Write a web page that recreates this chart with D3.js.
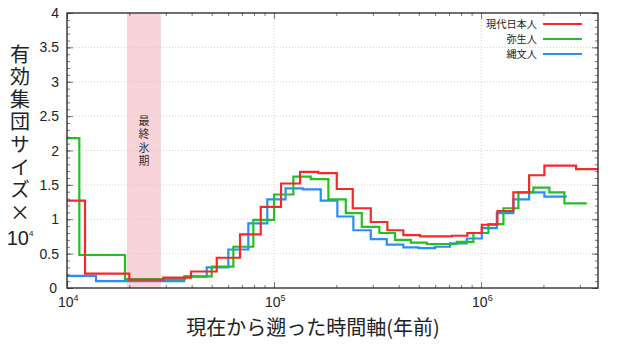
<!DOCTYPE html>
<html><head><meta charset="utf-8">
<script src="https://cdn.jsdelivr.net/npm/d3@7"></script>
<style>
body{margin:0;background:#fff;}
svg{display:block;}
</style></head>
<body>
<svg id="c" width="624" height="352"></svg>
<script>
// ---- data (time in years before present, Ne in units of 10^4) ----
const seriesNames = ["現代日本人", "弥生人", "縄文人"];
const seriesColors = ["#f42a2a", "#22c022", "#2a8ef5"];

const modernTimes = [10000, 12220, 20000, 29190, 39720, 52880, 68510, 86250, 108100, 133550, 163700, 200900, 240000, 293200, 352700, 421300, 507400, 599500, 722000, 858700, 1008000, 1199000, 1432000, 1706000, 2022000, 2877000, 3700000];
const modernValues = [1.27, 0.21, 0.12, 0.15, 0.24, 0.44, 0.78, 1.18, 1.52, 1.69, 1.67, 1.44, 1.16, 0.96, 0.84, 0.77, 0.75, 0.75, 0.76, 0.80, 0.92, 1.12, 1.39, 1.64, 1.78, 1.73];

const yayoiTimes = [10000, 11470, 19060, 37160, 50000, 63610, 79430, 100000, 123960, 150400, 183000, 222100, 265300, 322600, 384200, 457600, 546700, 763200, 918000, 1085000, 1282000, 1515000, 1789000, 2138000, 2526000, 3240000];
const yayoiValues = [2.18, 0.48, 0.13, 0.17, 0.31, 0.60, 0.99, 1.36, 1.62, 1.585, 1.29, 1.09, 0.89, 0.80, 0.70, 0.66, 0.64, 0.67, 0.80, 0.93, 1.16, 1.39, 1.46, 1.39, 1.23];

const jomonTimes = [10000, 13810, 36750, 47300, 60150, 75120, 92800, 113650, 137600, 168100, 202200, 241600, 293200, 350300, 421300, 497900, 599500, 708400, 853000, 1008000, 1191000, 1432000, 1706000, 2022000, 2594000];
const jomonValues = [0.175, 0.10, 0.165, 0.30, 0.56, 0.94, 1.29, 1.45, 1.435, 1.27, 1.04, 0.84, 0.71, 0.63, 0.59, 0.58, 0.60, 0.65, 0.72, 0.87, 1.09, 1.29, 1.39, 1.33];

const iceAge = [19500, 28400];
const iceAgeLabel = "最終氷期";
const yTicks = [0, 0.5, 1, 1.5, 2, 2.5, 3, 3.5, 4];
const xMajor = [1e4, 1e5, 1e6];
const xTickExp = ["4", "5", "6"];
const yTitleMain = "有効集団サイズ×";
const xTitle = "現在から遡った時間軸(年前)";

// ---- layout ----
const L = 67, R = 598, T = 13, B = 288;
const svg = d3.select("#c");
const x = d3.scaleLog().domain([1e4, 3.67e6]).range([L, R]);
const y = d3.scaleLinear().domain([0, 4]).range([B, T]);
const latin = "Liberation Sans, Arial, Helvetica, sans-serif";
const cjk = "'Noto Sans CJK JP', 'Noto Sans CJK SC', sans-serif";

svg.append("defs").append("clipPath").attr("id", "clip")
  .append("rect").attr("x", L).attr("y", T).attr("width", R - L).attr("height", B - T);

// ice age band
svg.append("rect")
  .attr("x", x(iceAge[0])).attr("y", T)
  .attr("width", x(iceAge[1]) - x(iceAge[0])).attr("height", B - T)
  .attr("fill", "#f8d3d7");

// grid
const grid = svg.append("g").attr("stroke", "#c8c8c8").attr("stroke-width", 0.8).attr("stroke-dasharray", "1,2");
yTicks.filter(v => v > 0 && v < 4).forEach(v => {
  grid.append("line").attr("x1", L).attr("x2", R).attr("y1", y(v)).attr("y2", y(v));
});
xMajor.filter(v => v > 1e4).forEach(v => {
  grid.append("line").attr("x1", x(v)).attr("x2", x(v)).attr("y1", T).attr("y2", B);
});

// ice age label (vertical)
svg.append("text")
  .attr("x", (x(iceAge[0]) + x(iceAge[1])) / 2).attr("y", 115)
  .attr("writing-mode", "vertical-rl").style("text-orientation", "upright")
  .attr("letter-spacing", 2.5)
  .attr("font-family", cjk).attr("font-size", 11).attr("fill", "#333")
  .text(iceAgeLabel);

// series
function stepPoints(times, values) {
  const pts = values.map((v, i) => [times[i], v]);
  pts.push([times[times.length - 1], values[values.length - 1]]);
  return pts;
}
const line = d3.line().x(d => x(d[0])).y(d => y(d[1])).curve(d3.curveStepAfter);
const allSeries = [
  stepPoints(modernTimes, modernValues),
  stepPoints(yayoiTimes, yayoiValues),
  stepPoints(jomonTimes, jomonValues)
];
const gl = svg.append("g").attr("clip-path", "url(#clip)");
[2, 1, 0].forEach(i => {
  gl.append("path").attr("d", line(allSeries[i])).attr("fill", "none")
    .attr("stroke", seriesColors[i]).attr("stroke-width", 2.2).attr("stroke-linejoin", "miter");
});

// axes with inward ticks
const minorX = [];
for (let d = 1e4; d < 1e7; d *= 10) for (let k = 2; k <= 9; k++) if (k * d <= 3.67e6) minorX.push(k * d);
const minorY = d3.range(0, 4.001, 0.1).map(v => +v.toFixed(1));

svg.append("g").attr("transform", `translate(0,${B})`)
  .call(d3.axisBottom(x).tickValues(xMajor).tickSize(-6).tickFormat(""));
svg.append("g").attr("transform", `translate(0,${B})`)
  .call(d3.axisBottom(x).tickValues(minorX).tickSize(-3).tickFormat(""));
svg.append("g").attr("transform", `translate(0,${T})`)
  .call(d3.axisTop(x).tickValues(xMajor).tickSize(-6).tickFormat(""));
svg.append("g").attr("transform", `translate(0,${T})`)
  .call(d3.axisTop(x).tickValues(minorX).tickSize(-3).tickFormat(""));
svg.append("g").attr("transform", `translate(${L},0)`)
  .call(d3.axisLeft(y).tickValues(yTicks).tickSize(-6).tickFormat(""));
svg.append("g").attr("transform", `translate(${L},0)`)
  .call(d3.axisLeft(y).tickValues(minorY).tickSize(-3).tickFormat(""));
svg.append("g").attr("transform", `translate(${R},0)`)
  .call(d3.axisRight(y).tickValues(yTicks).tickSize(-6).tickFormat(""));
svg.append("g").attr("transform", `translate(${R},0)`)
  .call(d3.axisRight(y).tickValues(minorY).tickSize(-3).tickFormat(""));
svg.selectAll(".domain").remove();
svg.selectAll(".tick line").attr("stroke", "#555").attr("stroke-width", 0.8);

// frame
svg.append("rect").attr("x", L).attr("y", T).attr("width", R - L).attr("height", B - T)
  .attr("fill", "none").attr("stroke", "#222").attr("stroke-width", 1.3);

// y tick labels
yTicks.forEach(v => {
  svg.append("text").attr("x", v === 0 ? 57 : 59).attr("y", y(v) + 5).attr("text-anchor", "end")
    .attr("font-family", latin).attr("font-size", 14).attr("fill", "#222").text(d3.format("")(v));
});
// x tick labels
xMajor.forEach((v, i) => {
  const t = svg.append("text").attr("x", x(v) - 9).attr("y", 307).attr("text-anchor", "start")
    .attr("font-family", latin).attr("font-size", 14).attr("fill", "#222");
  t.append("tspan").text("10");
  t.append("tspan").attr("dy", -6).attr("font-size", 9).text(xTickExp[i]);
});

// y title (vertical)
svg.append("text").attr("x", 20).attr("y", 44)
  .attr("writing-mode", "vertical-rl").style("text-orientation", "upright")
  .attr("letter-spacing", 2.6)
  .attr("font-family", cjk).attr("font-size", 20).attr("fill", "#222")
  .text(yTitleMain);
const yt2 = svg.append("text").attr("x", 20).attr("y", 245).attr("text-anchor", "middle")
  .attr("font-family", latin).attr("font-size", 20).attr("fill", "#222");
yt2.append("tspan").text("10");
yt2.append("tspan").attr("dy", -9).attr("font-size", 8).text("4");

// x title
svg.append("text").attr("x", 313).attr("y", 335).attr("text-anchor", "middle")
  .attr("font-family", cjk).attr("font-size", 20).attr("fill", "#222").text(xTitle);

// legend
seriesNames.forEach((n, i) => {
  const yy = 24 + i * 15;
  svg.append("text").attr("x", 537).attr("y", yy + 4).attr("text-anchor", "end")
    .attr("font-family", cjk).attr("font-size", 10.2).attr("fill", "#222").text(n);
  svg.append("line").attr("x1", 543).attr("x2", 582).attr("y1", yy).attr("y2", yy)
    .attr("stroke", seriesColors[i]).attr("stroke-width", 2.2);
});
</script>
</body></html>
